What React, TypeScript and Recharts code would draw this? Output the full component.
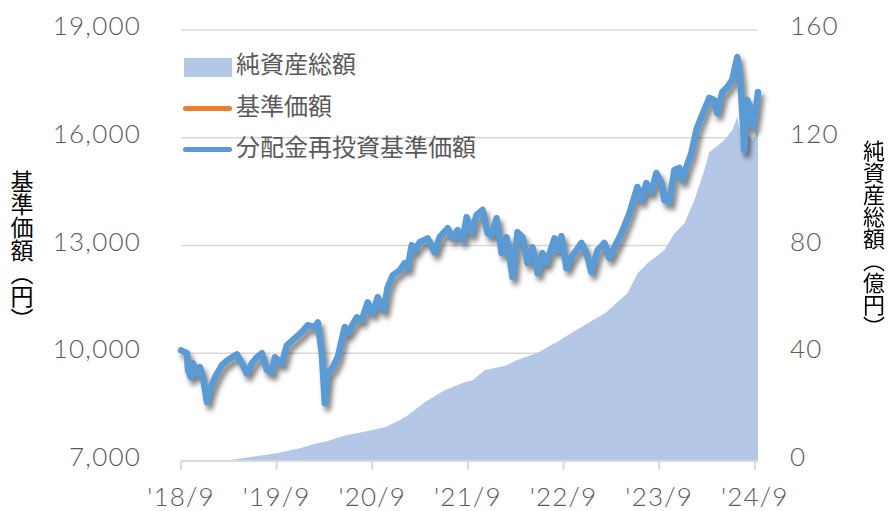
import React from 'react';
import { ComposedChart, Area, Line, XAxis, YAxis, CartesianGrid } from 'recharts';

// months since 2018/9
const priceMonths = [
  0, 0.75, 0.88, 1.25, 1.5, 2.0, 2.38, 2.76, 3.26, 3.63, 4.26, 5.14, 5.89, 7.02, 7.64, 8.27, 8.9, 9.52, 10.15, 10.78,
  11.4, 11.78, 12.66, 13.28, 14.29, 15.16, 15.91, 16.79, 17.17, 17.67, 18.05, 18.42, 19.05, 19.67, 20.55, 20.93, 22.06, 22.68, 23.43, 24.06,
  24.69, 25.44, 25.94, 26.57, 27.44, 28.07, 28.45, 28.95, 29.32, 29.95, 30.95, 31.83, 32.46, 33.46, 34.09, 34.71, 35.34, 35.84, 36.47, 37.09,
  37.84, 38.47, 38.97, 39.6, 40.23, 40.85, 41.6, 42.23, 42.86, 43.48, 44.11, 44.74, 45.36, 45.86, 46.87, 47.24, 47.74, 48.37, 49.0, 49.62,
  50.25, 50.88, 51.5, 52.26, 53.13, 53.76, 54.39, 55.26, 56.27, 56.89, 57.27, 57.77, 58.4, 59.02, 59.65, 60.28, 60.65, 61.28, 61.9, 62.53,
  62.91, 63.41, 64.04, 64.66, 65.29, 65.66, 66.29, 66.92, 67.29, 67.92, 68.55, 69.17, 69.8, 70.18, 70.43, 70.68, 71.05, 71.55, 71.8, 72.18,
  72.4,
];
const priceValues = [
  10080, 10000, 9530, 9330, 9720, 9440, 9610, 9330, 8640, 8970, 9330, 9670, 9810, 9970, 9720, 9440, 9720, 9890, 10000, 9530,
  9470, 9890, 9720, 10220, 10420, 10590, 10780, 10730, 10860, 10000, 8610, 9440, 9610, 9890, 10730, 10560, 11000, 10920, 11420, 11120,
  11560, 11200, 11840, 12170, 12310, 12510, 12370, 13010, 12870, 13090, 13200, 12810, 13230, 13480, 13200, 13430, 13150, 13790, 13340, 13850,
  13990, 13340, 13290, 13760, 12790, 13230, 12120, 13370, 13230, 12510, 12950, 12230, 12790, 12510, 13200, 12870, 13260, 12370, 12680, 12870,
  13070, 12790, 12260, 12870, 13070, 12650, 12950, 13340, 13900, 14350, 14630, 14260, 14740, 14490, 15020, 14740, 14260, 14210, 15100, 15160,
  14820, 15180, 15570, 16210, 16580, 16770, 17110, 17050, 16690, 17270, 17410, 17610, 18250, 17610, 16690, 15660, 17050, 16770, 16300, 16850,
  17270,
];

const navMonths = [
  0, 6.3, 6.52, 12.03, 14.91, 17.04, 18.3, 20.55, 23.3, 25.56, 27.44, 28.45, 30.58, 33.08, 35.59, 36.59, 38.1, 40.85, 42.1, 44.61,
  47.12, 49.12, 51.25, 53.38, 55.0, 56.0, 57.27, 58.52, 60.65, 61.9, 63.16, 64.41, 65.66, 66.29, 66.92, 68.17, 69.17, 69.8, 70.43, 71.05,
  71.68, 72.4,
];
const navValues = [
  0, 0, 0.6, 2.9, 4.7, 6.6, 7.3, 9.5, 11.0, 12.5, 15.1, 17.0, 21.8, 26.3, 29.2, 30.0, 33.7, 35.5, 37.4, 40.0,
  44.1, 47.8, 51.5, 55.2, 59.7, 62.2, 69.6, 73.4, 78.3, 84.5, 88.2, 96.8, 107.9, 114.6, 116.1, 119.1, 122.8, 127.7, 118.0, 121.7,
  119.1, 122.8,
];

const monthTicks = [0, 12, 24, 36, 48, 60, 72];
const monthLabels = ["'18/9", "'19/9", "'20/9", "'21/9", "'22/9", "'23/9", "'24/9"];
const leftTicks = [7000, 10000, 13000, 16000, 19000];
const rightTicks = [0, 40, 80, 120, 160];

const legendItems = ['純資産総額', '基準価額', '分配金再投資基準価額'];

type Row = { m: number; price?: number; reinvest?: number; nav?: number };

const rowMap = new Map<number, Row>();
priceMonths.forEach((m, i) => {
  const r = rowMap.get(m) || { m };
  r.price = priceValues[i];
  r.reinvest = priceValues[i];
  rowMap.set(m, r);
});
navMonths.forEach((m, i) => {
  const r = rowMap.get(m) || { m };
  r.nav = navValues[i];
  rowMap.set(m, r);
});
const rows = Array.from(rowMap.values()).sort((a, b) => a.m - b.m);

const TICK_FONT = 'Lato, "Open Sans", sans-serif';
const CJK_FONT = '"Noto Sans CJK JP", "Noto Sans", sans-serif';
const GRAY = '#595959';
const tickText = { fill: GRAY, fontSize: 26, fontWeight: 300, fontFamily: TICK_FONT, letterSpacing: 1.2 };

const LeftTick = (props: any) => (
  <text x={141} y={props.y + 5} textAnchor="end" {...tickText}>
    {props.payload.value.toLocaleString('en-US')}
  </text>
);

const RightTick = (props: any) => (
  <text x={790} y={props.y + 5} textAnchor="start" {...tickText}>
    {props.payload.value}
  </text>
);

const BottomTick = (props: any) => (
  <text x={props.x} y={506} textAnchor="middle" {...tickText}>
    {monthLabels[monthTicks.indexOf(props.payload.value)]}
  </text>
);

export default function App() {
  return (
    <div style={{ position: 'fixed', left: 0, top: 0, width: 889, height: 511, background: '#fff' }}>
      <style>{`.reinvest-line { filter: drop-shadow(3px 5px 2.5px rgba(0,0,0,0.5)); }`}</style>
      <ComposedChart width={889} height={511} data={rows} margin={{ top: 30, right: 0, bottom: 0, left: 0 }}>
        <CartesianGrid yAxisId="left" vertical={false} stroke="#d9d9d9" strokeWidth={1.5} />
        <XAxis
          dataKey="m"
          type="number"
          domain={[0, 72.4]}
          ticks={monthTicks}
          height={50}
          axisLine={{ stroke: '#d9d9d9', strokeWidth: 2 }}
          tickLine={{ stroke: '#d9d9d9', strokeWidth: 2 }}
          tickSize={9}
          tick={<BottomTick />}
          interval={0}
        />
        <YAxis
          yAxisId="left"
          domain={[7000, 19000]}
          ticks={leftTicks}
          width={181}
          axisLine={false}
          tickLine={false}
          tick={<LeftTick />}
          interval={0}
        />
        <YAxis
          yAxisId="right"
          orientation="right"
          domain={[0, 160]}
          ticks={rightTicks}
          width={131}
          axisLine={false}
          tickLine={false}
          tick={<RightTick />}
          interval={0}
        />
        <Area
          yAxisId="right"
          dataKey="nav"
          type="linear"
          fill="#B4C7E7"
          fillOpacity={1}
          stroke="none"
          connectNulls
          isAnimationActive={false}
        />
        <Line
          yAxisId="left"
          dataKey="price"
          type="linear"
          stroke="#ED7D31"
          strokeWidth={5}
          strokeLinejoin="round"
          strokeLinecap="round"
          dot={false}
          connectNulls
          isAnimationActive={false}
        />
        <Line
          yAxisId="left"
          dataKey="reinvest"
          type="linear"
          className="reinvest-line"
          stroke="#5B9BD5"
          strokeWidth={6.5}
          strokeLinejoin="round"
          strokeLinecap="round"
          dot={false}
          connectNulls
          isAnimationActive={false}
        />
      </ComposedChart>

      {/* legend */}
      <div style={{ position: 'absolute', left: 184, top: 58, width: 48, height: 19, background: '#B4C7E7' }} />
      <div style={{ position: 'absolute', left: 183, top: 106, width: 49, height: 5, borderRadius: 3, background: '#ED7D31' }} />
      <div style={{ position: 'absolute', left: 183, top: 147, width: 49, height: 5, borderRadius: 3, background: '#5B9BD5' }} />
      {legendItems.map((t, i) => (
        <div
          key={t}
          style={{
            position: 'absolute',
            left: 236,
            top: [50, 92, 133][i],
            fontFamily: CJK_FONT,
            fontSize: 24,
            lineHeight: '26px',
            color: GRAY,
            whiteSpace: 'nowrap',
          }}
        >
          {t}
        </div>
      ))}

      {/* axis titles */}
      <div
        style={{
          position: 'absolute',
          left: 10,
          top: 170,
          writingMode: 'vertical-rl',
          fontFamily: CJK_FONT,
          fontSize: 23,
          lineHeight: '24px',
          color: '#000',
          whiteSpace: 'nowrap',
        }}
      >
        基準価額（円）
      </div>
      <div
        style={{
          position: 'absolute',
          left: 863,
          top: 140,
          writingMode: 'vertical-rl',
          fontFamily: CJK_FONT,
          fontSize: 22,
          lineHeight: '22px',
          color: '#000',
          whiteSpace: 'nowrap',
        }}
      >
        純資産総額（億円）
      </div>
    </div>
  );
}
